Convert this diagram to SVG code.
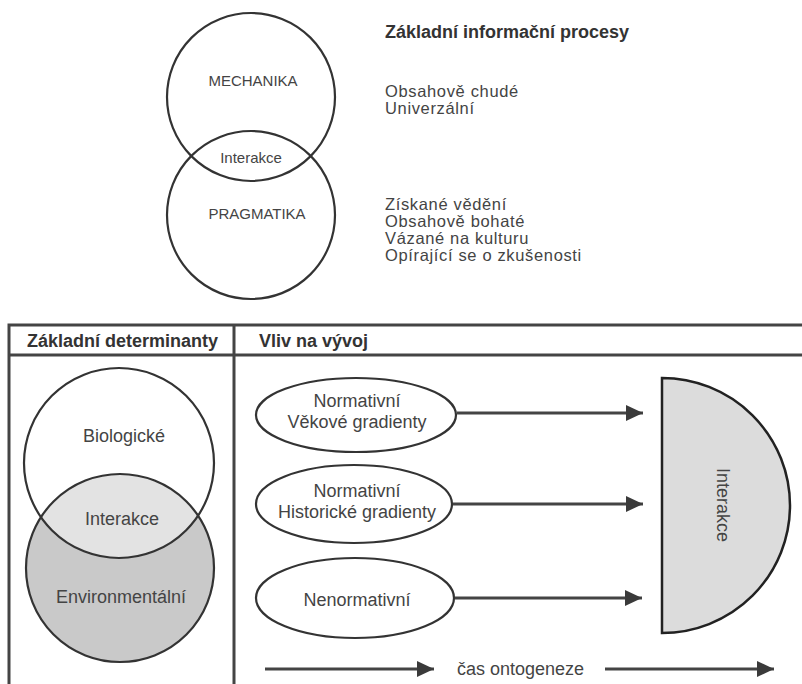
<svg xmlns="http://www.w3.org/2000/svg" width="802" height="684" viewBox="0 0 802 684">
<defs>
<marker id="ah" markerWidth="18" markerHeight="16" refX="17" refY="8" orient="auto" markerUnits="userSpaceOnUse">
<path d="M0,0 L17,8 L0,16 Z" fill="#3a3a3a"/>
</marker>
<clipPath id="bioclip"><circle cx="119" cy="463" r="95"/></clipPath>
<style>
text{font-family:"Liberation Sans",Arial,sans-serif;fill:#444;}
.c{stroke:#333;stroke-width:2.2;}
.s{font-size:15px;text-anchor:middle;}
.r{font-size:16.5px;letter-spacing:0.65px;}
.t{font-size:18px;}
.b{font-size:18px;font-weight:bold;fill:#333;}
.m{font-size:18px;text-anchor:middle;}
.ln{stroke:#444;stroke-width:3;fill:none;}
.ar{stroke:#444;stroke-width:3;fill:none;marker-end:url(#ah);}
</style>
</defs>
<rect width="802" height="684" fill="#fff"/>

<g id="top-venn">
<circle cx="251" cy="97" r="84" fill="none" class="c"/>
<circle cx="251" cy="215" r="84" fill="none" class="c"/>
<text class="s" x="253" y="86">MECHANIKA</text>
<text class="s" x="251" y="163">Interakce</text>
<text class="s" x="257" y="219">PRAGMATIKA</text>
</g>

<g id="top-texts">
<text class="b" x="385" y="38">Základní informační procesy</text>
<text class="r" x="385" y="97">Obsahově chudé</text>
<text class="r" x="385" y="114">Univerzální</text>
<text class="r" x="385" y="210">Získané vědění</text>
<text class="r" x="385" y="227">Obsahově bohaté</text>
<text class="r" x="385" y="244">Vázané na kulturu</text>
<text class="r" x="385" y="261">Opírající se o zkušenosti</text>
</g>

<g id="table">
<path d="M9,690 V325 H810 M9,355 H810 M234,325 V690" class="ln"/>
<text class="b" x="27" y="347">Základní determinanty</text>
<text class="b" x="259" y="347">Vliv na vývoj</text>
</g>

<g id="left-venn">
<circle cx="120" cy="568" r="94" fill="#c9c9c9"/>
<circle cx="120" cy="568" r="94" fill="#e3e3e3" clip-path="url(#bioclip)"/>
<circle cx="119" cy="463" r="95" fill="none" class="c"/>
<circle cx="120" cy="568" r="94" fill="none" class="c"/>
<text class="m" x="124" y="442">Biologické</text>
<text class="m" x="122" y="525">Interakce</text>
<text class="m" x="121" y="603">Environmentální</text>
</g>

<g id="e1">
<ellipse cx="356" cy="415" rx="100" ry="37" fill="#fff" class="c"/>
<text class="m" x="357" y="407">Normativní</text>
<text class="m" x="357" y="428">Věkové gradienty</text>
</g>
<g id="e2">
<ellipse cx="354" cy="504" rx="98" ry="39" fill="#fff" class="c"/>
<text class="m" x="357" y="497">Normativní</text>
<text class="m" x="357" y="518">Historické gradienty</text>
</g>
<g id="e3">
<ellipse cx="355" cy="598" rx="99" ry="40" fill="#fff" class="c"/>
<text class="m" x="357" y="606">Nenormativní</text>
</g>

<g id="half-disc">
<path d="M662,378 A128,127.5 0 0 1 662,633 Z" fill="#dcdcdc" stroke="#222" stroke-width="2.5"/>
<text class="m" transform="translate(717,505) rotate(90)" y="0">Interakce</text>
</g>

<g id="connectors">
<line class="ar" x1="457" y1="413" x2="643" y2="413"/>
<line class="ar" x1="453" y1="504" x2="643" y2="504"/>
<line class="ar" x1="455" y1="598" x2="642" y2="598"/>
<line class="ar" x1="265" y1="669" x2="434" y2="669"/>
<line class="ar" x1="605" y1="669" x2="774" y2="669"/>
</g>
<text class="t" x="457" y="675">čas ontogeneze</text>
</svg>
